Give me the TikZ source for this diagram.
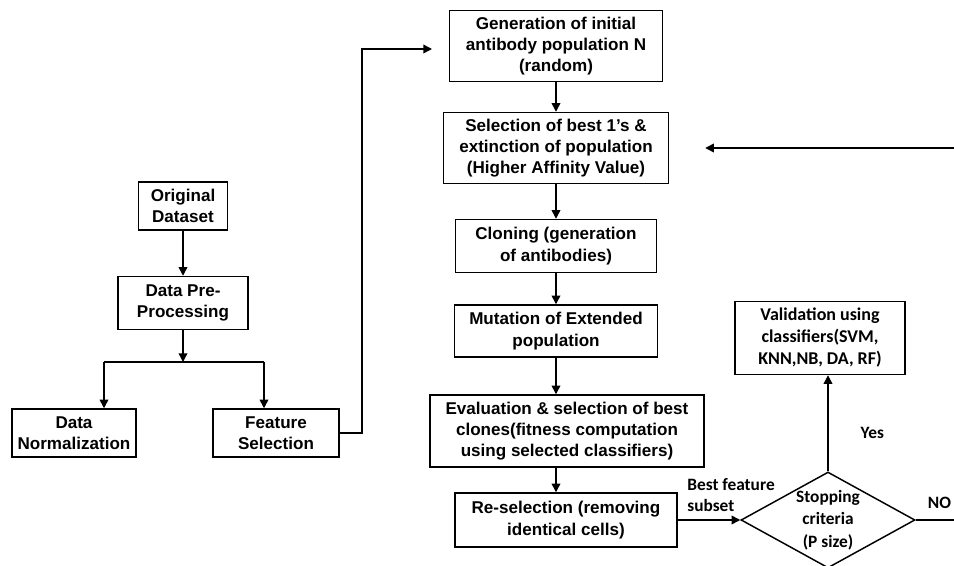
\documentclass[tikz,border=0pt]{standalone}
\usepackage{fontspec}
\setmainfont{Liberation Sans}
\newfontfamily\calib{Carlito}
\usepackage{tikz}
\usetikzlibrary{arrows.meta, positioning, shapes.geometric, calc}

\begin{document}
\begin{tikzpicture}[
        x=0.75pt, y=-0.75pt,
        box/.style={draw=black, line width=1.1pt, inner sep=0pt, align=center,
                    font=\bfseries\fontsize{12.8}{16}\selectfont},
        wh/.style 2 args={minimum width=#1*0.75pt, minimum height=#2*0.75pt},
        decision/.style={diamond, draw=black, line width=1.1pt, inner sep=0pt,
                    aspect=1.8, align=center,
                    font=\calib\bfseries\fontsize{13}{17}\selectfont},
        arr/.style={-{Triangle[length=6.5pt, width=6.5pt]}, line width=1.1pt},
        link/.style={line width=1.1pt},
        lbl/.style={font=\calib\bfseries\fontsize{13}{16}\selectfont,
                    inner sep=0pt, align=left},
      ]
        \useasboundingbox (0,0) rectangle (954,566);

        % left branch
        \node[box, wh={89}{48}]  (orig) at (183,206) {Original\\Dataset};
        \node[box, wh={130}{53}] (prep) at (183,303) {Data Pre-\\Processing};
        \node[box, wh={124}{48}] (norm) at (74,433)  {Data\\Normalization};
        \node[box, wh={126}{48}] (feat) at (276,433) {Feature\\Selection};

        % main column
        \node[box, wh={213}{71}] (gen)   at (556,46)  {Generation of initial\\antibody population N\\(random)};
        \node[box, wh={225}{71}] (sel)   at (556,148) {Selection of best 1’s \&\\extinction of population\\(Higher Affinity Value)};
        \node[box, wh={201}{53}] (clon)  at (556,246) {Cloning (generation\\of antibodies)};
        \node[box, wh={203}{52}] (mut)   at (556,331) {Mutation of Extended\\population};
        \node[box, wh={274}{72}] (eval)  at (567,431) {Evaluation \& selection of best\\clones(fitness computation\\using selected classifiers)};
        \node[box, wh={222}{54}] (resel) at (566,520) {Re-selection (removing\\identical cells)};

        % right part
        \node[box, wh={170}{73}, font=\calib\bfseries\fontsize{13.5}{16.5}\selectfont]
             (valid) at (820,338) {Validation using\\classifiers(SVM,\\KNN,NB, DA, RF)};
        \node[decision, wh={174}{96}] (stop) at (828,520) {Stopping\\criteria\\(P size)};

        \coordinate (split)  at (183,362);
        \coordinate (splitL) at (104,362);
        \coordinate (splitR) at (264,362);
        \coordinate (up)     at (362,49);
        \coordinate (genin)  at (432,49);
        \coordinate (noend)  at (954,520);
        \coordinate (back)   at (954,148);

        \draw[arr] (orig) -- (prep);
        \draw[arr] (prep) -- (split);
        \draw[link] (splitL) -- (splitR);
        \draw[arr] (splitL) -- (splitL |- norm.north);
        \draw[arr] (splitR) -- (splitR |- feat.north);
        \draw[arr] (feat.east) -| (up) -- (genin);

        \foreach \a/\b in {gen/sel, sel/clon, clon/mut, mut/eval, eval/resel}
          \draw[arr] (\a.south -| gen.south) -- (\b.north -| gen.south);

        \draw[arr] (resel.east) -- (stop.west);
        \node[lbl, above right=6pt and 7pt of resel.east] {Best feature\\subset};
        \draw[arr] (stop.north) -- (stop.north |- valid.south)
              node[lbl, pos=0.4, right=24pt] {Yes};
        \draw[link] (stop.east) -- (noend)
              node[lbl, pos=0.62, above=8pt] {NO};
        \draw[arr, shorten >=27pt] (back) -- (sel.east);
      \end{tikzpicture}
\end{document}
